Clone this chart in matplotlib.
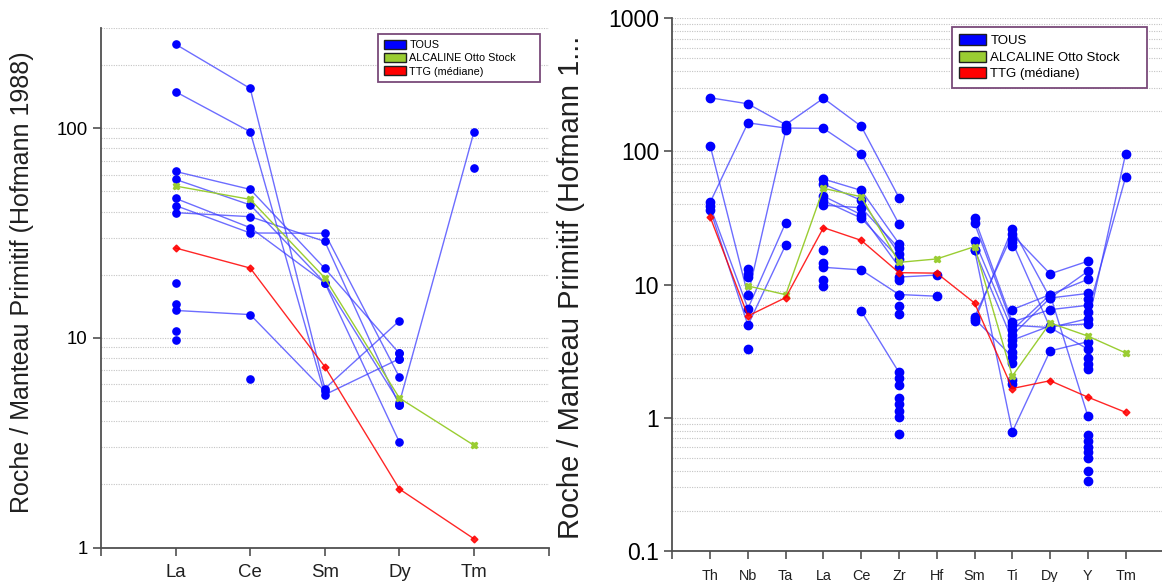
import numpy as np
import matplotlib.pyplot as plt
from matplotlib.patches import Patch
from matplotlib.ticker import LogLocator, NullFormatter

plt.rcParams['font.family'] = ['Liberation Sans', 'DejaVu Sans']

# éléments (diagramme de droite) et sous-ensemble du diagramme de gauche
elements = ['Th', 'Nb', 'Ta', 'La', 'Ce', 'Zr', 'Hf', 'Sm', 'Ti', 'Dy', 'Y', 'Tm']
left_elements = ['La', 'Ce', 'Sm', 'Dy', 'Tm']

N = None
# TOUS : un échantillon par ligne, valeurs dans l'ordre de "elements"
tous = [
    [253, 228, 159, 251, 154.5, 45.0, N, 5.72, 23.8, 12.05, 15.0, N],
    [41.5, 164, 150, 149, 96, 28.5, N, 5.35, 26.4, 7.94, 8.59, N],
    [110.5, 8.32, 144, N, N, N, N, N, N, N, N, N],
    [38.7, 6.62, 29.2, N, N, N, N, N, N, N, N, N],
    [36.6, 4.96, 19.9, N, N, N, N, N, N, N, N, N],
    [N, N, N, 62.1, 51, 20.3, N, 21.4, 4.55, 8.42, 1.03, N],
    [N, N, N, 56.9, 43, 17.1, N, 18.3, 3.83, 4.90, 5.07, 96],
    [N, N, N, 46.2, 33.5, 13.6, N, 18.3, 0.785, 3.18, 3.73, N],
    [N, N, N, 42.7, 31.6, 15.7, N, 31.5, 5.25, 6.49, 7.0, N],
    [N, N, N, 39.5, 37.8, 18.7, N, 28.8, 4.96, 4.76, 5.55, N],
    [N, N, N, 13.5, 12.9, 8.43, N, 5.55, 2.87, N, N, N],
    [N, N, N, N, N, N, N, N, N, N, 6.23, 64.2],
    [N, N, N, N, 6.33, 2.19, N, N, N, N, N, N],
    [N, N, N, N, N, 11.4, 11.8, N, N, N, N, N],
    [N, N, N, N, N, 8.43, 8.19, N, N, N, N, N],
    [N, N, N, N, N, N, N, N, 4.17, 7.94, 12.6, N],
    [N, N, N, N, N, N, N, N, 6.50, 8.42, 10.96, N],
    [N, N, N, N, N, N, N, N, 20.9, 4.76, 3.28, N],
]
# points isolés
nb_iso = [13.1, 12.1, 11.4, 3.26]
la_iso = [18.3, 14.5, 10.8, 9.78]
zr_iso = [10.8, 6.92, 6.07, 1.98, 1.76, 1.42, 1.28, 1.13, 1.02, 0.755]
ti_iso = [22.2, 19.6, 3.51, 3.13, 2.59, 1.92, 1.79]
y_iso = [7.8, 2.79, 2.54, 2.31, 0.741, 0.669, 0.608, 0.552, 0.501, 0.396, 0.337]

alcaline = [N, 9.78, 8.4, 52.9, 45.7, 14.7, 15.6, 19.3, 2.06, 5.16, 4.11, 3.07]
ttg = [32.2, 5.82, 8.0, 26.8, 21.5, 12.3, 12.2, 7.28, 1.66, 1.90, 1.43, 1.10]

BLUE = '#0000ff'
GREEN = '#9acd32'
RED = '#ff0000'
ylabel = 'Roche / Manteau Primitif (Hofmann 1988)'


def pick(row, cols):
    return np.array([row[elements.index(c)] for c in cols], dtype=float)


def draw(ax, cols, ms):
    x = np.arange(1, len(cols) + 1)
    for row in tous:
        y = pick(row, cols)
        ax.plot(x, y, color='#3c3cff', lw=1.0, alpha=0.75, zorder=2)
        ax.plot(x, y, 'o', color=BLUE, ms=ms, mec=BLUE, zorder=3)
    for el, vals in [('Nb', nb_iso), ('La', la_iso), ('Zr', zr_iso), ('Ti', ti_iso), ('Y', y_iso)]:
        if el in cols:
            ax.plot([cols.index(el) + 1] * len(vals), vals, 'o', color=BLUE, ms=ms, zorder=3)
    ax.plot(x, pick(alcaline, cols), color=GREEN, lw=1.0, marker='X', ms=4.5, zorder=4)
    ax.plot(x, pick(ttg, cols), color=RED, lw=1.0, alpha=0.85, marker='D', ms=3.5, zorder=5)


def style(ax, cols, yticks, ylim, ytfs, xtfs):
    ax.set_yscale('log')
    ax.set_ylim(*ylim)
    ax.set_xlim(0, len(cols) + 1)
    ax.set_xticks(range(len(cols) + 2))
    ax.set_xticklabels([''] + cols + [''], fontsize=xtfs, color='#202020')
    ax.set_yticks(yticks)
    ax.set_yticklabels([('%g' % v) for v in yticks], fontsize=ytfs)
    ax.yaxis.set_minor_locator(LogLocator(base=10, subs=np.arange(2, 10)))
    ax.yaxis.set_minor_formatter(NullFormatter())
    ax.tick_params(which='minor', length=0)
    ax.tick_params(which='major', length=6, width=1.2, color='#505050', direction='out')
    ax.tick_params(axis='x', pad=6)
    ax.yaxis.grid(True, which='both', linestyle=(0, (1, 1.2)), color='#c4c4c4', lw=0.8, zorder=0)
    ax.set_axisbelow(True)
    for s in ['top', 'right']:
        ax.spines[s].set_visible(False)
    for s in ['left', 'bottom']:
        ax.spines[s].set_color('#505050')
        ax.spines[s].set_linewidth(1.3)


def legend(ax, fig, x0, y0, x1, y1, fs):
    handles = [Patch(facecolor=BLUE, edgecolor='#202020', label='TOUS'),
               Patch(facecolor=GREEN, edgecolor='#202020', label='ALCALINE Otto Stock'),
               Patch(facecolor=RED, edgecolor='#202020', label='TTG (médiane)')]
    bbox = (x0 / 1162, 1 - y1 / 582, (x1 - x0) / 1162, (y1 - y0) / 582)
    leg = ax.legend(handles=handles, loc='upper left', mode='expand', bbox_to_anchor=bbox,
                    bbox_transform=fig.transFigure, fontsize=fs, frameon=True, fancybox=False,
                    framealpha=1, edgecolor='#7a4a7a', borderaxespad=0, borderpad=0.55,
                    handlelength=2.0, handleheight=0.9, handletextpad=0.35, labelspacing=0.27)
    leg.get_frame().set_linewidth(1.3)
    leg.set_zorder(10)


fig = plt.figure(figsize=(11.62, 5.82), dpi=100)

ax1 = fig.add_axes([101 / 1162, 1 - 547.5 / 582, 447.6 / 1162, 519.5 / 582])
draw(ax1, left_elements, 5.2)
style(ax1, left_elements, [1, 10, 100], (1, 300), 13.4, 13.4)
legend(ax1, fig, 378, 34, 540, 86, 7.8)

ax2 = fig.add_axes([672.4 / 1162, 1 - 551 / 582, 491 / 1162, 532.7 / 582])
draw(ax2, elements, 6)
style(ax2, elements, [0.1, 1, 10, 100, 1000], (0.1, 1000), 16.6, 10.4)
ax2.tick_params(axis='x', pad=7)
legend(ax2, fig, 952, 27, 1147, 90, 9.5)

fig.text(22 / 1162, 1 - 282 / 582, ylabel, rotation=90, fontsize=18,
         ha='center', va='center', color='#202020')
fig.text(571 / 1162, 1 - 287 / 582, 'Roche / Manteau Primitif (Hofmann 1...', rotation=90,
         fontsize=21, ha='center', va='center', color='#202020')

fig.savefig('out.png', dpi=100)
